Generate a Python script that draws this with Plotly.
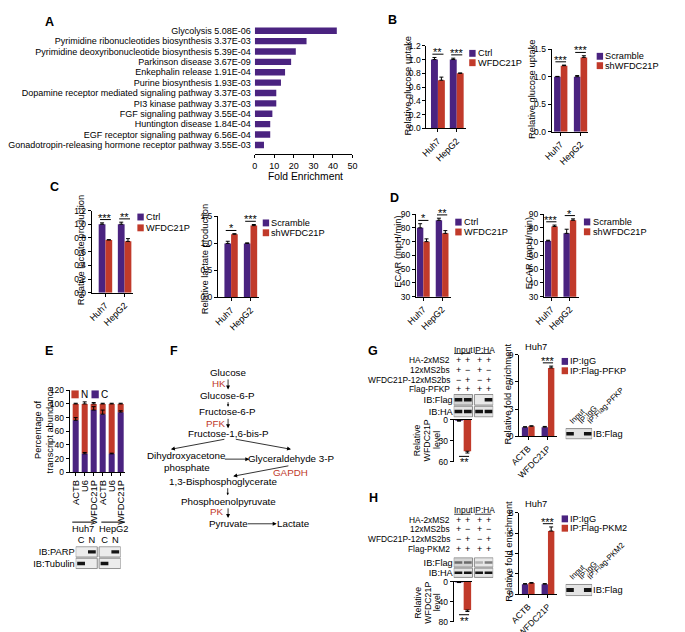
import plotly.graph_objects as go

# ---------------- data ----------------
A_terms = ["Glycolysis", "Pyrimidine ribonucleotides biosynthesis",
           "Pyrimidine deoxyribonucleotide biosynthesis", "Parkinson disease",
           "Enkephalin release", "Purine biosynthesis",
           "Dopamine receptor mediated signaling pathway", "PI3 kinase pathway",
           "FGF signaling pathway", "Huntington disease",
           "EGF receptor signaling pathway",
           "Gonadotropin-releasing hormone receptor pathway"]
A_pvals = ["5.08E-06", "3.37E-03", "5.39E-04", "3.67E-09", "1.91E-04", "1.93E-03",
           "3.37E-03", "3.37E-03", "3.55E-04", "1.84E-04", "6.56E-04", "3.55E-03"]
A_fold = [42.0, 26.5, 21.0, 18.6, 15.5, 13.4, 11.0, 11.0, 9.0, 7.9, 7.9, 4.7]
A_ticks = [0, 10, 20, 30, 40, 50]

CELLS = ["Huh7", "HepG2"]
OE_LABELS = ["Ctrl", "WFDC21P"]
KD_LABELS = ["Scramble", "shWFDC21P"]

B1_ctrl = [1.0, 1.0]; B1_ctrl_err = [0.03, 0.02]
B1_wf = [0.70, 0.80]; B1_wf_err = [0.045, 0.005]
B1_sig = ["**", "***"]
B2_scr = [1.0, 1.0]; B2_scr_err = [0.005, 0.02]
B2_sh = [1.20, 1.35]; B2_sh_err = [0.01, 0.03]
B2_sig = ["***", "***"]

C1_ctrl = [1.0, 1.0]; C1_ctrl_err = [0.02, 0.03]
C1_wf = [0.77, 0.75]; C1_wf_err = [0.005, 0.04]
C1_sig = ["***", "**"]
C2_scr = [1.0, 1.0]; C2_scr_err = [0.04, 0.01]
C2_sh = [1.17, 1.33]; C2_sh_err = [0.01, 0.02]
C2_sig = ["*", "***"]

D1_ctrl = [80.0, 85.5]; D1_ctrl_err = [3.0, 1.5]
D1_wf = [70.0, 76.0]; D1_wf_err = [2.0, 2.0]
D1_sig = ["*", "**"]
D2_scr = [70.5, 76.0]; D2_scr_err = [0.5, 3.0]
D2_sh = [81.0, 85.5]; D2_sh_err = [1.0, 1.0]
D2_sig = ["***", "*"]

E_genes = ["ACTB", "U6", "WFDC21P", "ACTB", "U6", "WFDC21P"]
E_C = [76, 27, 91, 85, 27, 88]
E_C_err = [4, 2, 5, 6, 1, 2]
E_N_err = [1, 3, 2, 1, 1, 1]
E_lanes = ["C", "N", "C", "N"]
E_rows = ["IB:PARP", "IB:Tubulin"]
E_bands = [[0, 1, 0, 1], [1, 0, 1, 0]]

GH_rows = ["HA-2xMS2", "12xMS2bs", "WFDC21P-12xMS2bs"]
GH_signs = [["+", "+", "+", "+"], ["+", "−", "+", "−"], ["−", "+", "−", "+"], ["+", "+", "+", "+"]]
G_flag = "Flag-PFKP"; H_flag = "Flag-PKM2"
GH_blot_rows = ["IB:Flag", "IB:HA"]
G_bands = [[1, 1, 0, 1], [1, 1, 1, 1]]
H_bands = [[0.55, 0.55, 0.25, 0.5], [1, 1, 1, 1]]
G_rel = [1, 45]; G_rel_err = [1, 2.5]
H_rel = [1, 57]; H_rel_err = [1, 3]
REL_sig = "**"
REL_title = ["Relative", "WFDC21P", "level"]
FOLD_genes = ["ACTB", "WFDC21P"]
G_igg = [1.0, 1.0]; G_igg_err = [0.05, 0.08]
G_flagp = [1.1, 7.55]; G_flagp_err = [0.05, 0.2]
H_igg = [1.0, 1.0]; H_igg_err = [0.05, 0.05]
H_flagp = [1.1, 6.2]; H_flagp_err = [0.05, 0.4]
FOLD_sig = ["", "***"]
G_small_lanes = ["Input", "IP:IgG", "IP:Flag-PFKP"]
H_small_lanes = ["Input", "IP:IgG", "IP:Flag-PKM2"]
SMALL_bands = [[1, 0, 1]]

# ---------------- styling helpers ----------------
W, H = 685, 632
FONT = "Liberation Sans, Arial, sans-serif"
PURPLE = "#4a2380"
RED = "#c13a2a"
ENZ = "#c0392b"


def X(p):
    return p / W


def Y(p):
    return 1 - p / H


AX = dict(showline=True, linecolor="black", linewidth=1, ticks="outside", ticklen=3,
          tickwidth=1, tickcolor="black", showgrid=False, zeroline=False,
          fixedrange=True, tickfont=dict(size=8.5, family=FONT, color="black"))
HID = dict(showline=False, showgrid=False, zeroline=False, ticks="",
           showticklabels=False, fixedrange=True)

fig = go.Figure()
layout = dict(width=W, height=H, margin=dict(l=0, r=0, t=0, b=0),
              paper_bgcolor="white", plot_bgcolor="rgba(0,0,0,0)",
              barmode="overlay", showlegend=False,
              font=dict(family=FONT, size=9, color="black"))
shapes, annots = [], []
n_ax = [0]


def new_axes(x0, x1, y0, y1, xa, ya):
    n_ax[0] += 1
    s = "" if n_ax[0] == 1 else str(n_ax[0])
    layout["xaxis" + s] = dict(xa, domain=[X(x0), X(x1)], anchor="y" + s)
    layout["yaxis" + s] = dict(ya, domain=[Y(y1), Y(y0)], anchor="x" + s)
    return "x" + s, "y" + s


def text(x, y, s, size=9.5, anchor="center", color="black", angle=0, bold=False,
         xref="paper", yref="paper", yanchor="middle"):
    annots.append(dict(x=X(x) if xref == "paper" else x, y=Y(y) if yref == "paper" else y,
                       xref=xref, yref=yref, text=("<b>%s</b>" % s) if bold else s,
                       showarrow=False, xanchor=anchor, yanchor=yanchor, textangle=angle,
                       borderpad=0, font=dict(size=size, color=color, family=FONT)))


def legend(x, ys, labels, colors, sq=7, size=9.2):
    for y, lab, c in zip(ys, labels, colors):
        shapes.append(dict(type="rect", xref="paper", yref="paper", x0=X(x), x1=X(x + sq),
                           y0=Y(y + sq / 2), y1=Y(y - sq / 2), fillcolor=c, line=dict(width=0)))
        text(x + sq + 1.5, y, lab, size=size, anchor="left")


def err(a):
    return dict(type="data", array=a, arrayminus=[0] * len(a), symmetric=False,
                color="black", thickness=1, width=2)


def bar_panel(g, cats, s1, e1, s2, e2, sig, labels, yrange, dtick, fmt=None, csize=9):
    unit = g["c1"] - g["c0"]
    w = g["bw"] / unit
    xr = [(g["left"] - g["c0"]) / unit, 1 + (g["right"] - g["c1"]) / unit]
    ya_d = dict(AX, range=yrange, dtick=dtick)
    if fmt:
        ya_d["tickformat"] = fmt
    xa, ya = new_axes(g["left"], g["right"], g["top"], g["bot"],
                      dict(AX, range=xr, tickvals=[0, 1], ticktext=cats, tickangle=-45,
                           tickfont=dict(size=csize, family=FONT, color="black")), ya_d)
    xs = list(range(len(cats)))
    fig.add_trace(go.Bar(x=xs, y=s1, width=w, offset=-w, marker=dict(color=PURPLE, line=dict(width=0)),
                         error_y=err(e1), xaxis=xa, yaxis=ya))
    fig.add_trace(go.Bar(x=xs, y=s2, width=w, offset=0, marker=dict(color=RED, line=dict(width=0)),
                         error_y=err(e2), xaxis=xa, yaxis=ya))
    span = yrange[1] - yrange[0]
    for i in xs:
        if not sig[i]:
            continue
        top = max(s1[i] + e1[i], s2[i] + e2[i]) + 0.04 * span
        shapes.append(dict(type="line", xref=xa, yref=ya, x0=i - 0.8 * w, x1=i + 0.8 * w,
                           y0=top, y1=top, line=dict(color="black", width=1)))
        annots.append(dict(xref=xa, yref=ya, x=i, y=top, text=sig[i], showarrow=False,
                           yanchor="bottom", yshift=-5, borderpad=0,
                           font=dict(size=11, family=FONT, color="black")))
    legend(g["lx"], g["ly"], labels, [PURPLE, RED])
    text(g["tx"], g["ty"], g["title"], size=9.4, angle=-90)
    return xa, ya


def blot(x0, x1, y0, y1, lanes, rows, bands, groups, xr, yr, bw=0.75, bh=0.28,
         fill="#e2e2e2", row_side="left", lane_labels=None, lane_angle=0, fills=None,
         lane_size=9.3, row_size=9.3):
    xa_d = dict(HID, range=xr)
    if lane_labels:
        xa_d.update(side="top", showticklabels=True, tickvals=lanes, ticktext=lane_labels,
                    tickangle=lane_angle, tickfont=dict(size=lane_size, family=FONT, color="black"))
    ya_d = dict(HID, range=yr, showticklabels=True, tickvals=list(range(len(rows))),
                ticktext=rows, side=row_side, tickfont=dict(size=row_size, family=FONT, color="black"))
    xa, ya = new_axes(x0, x1, y0, y1, xa_d, ya_d)
    for r in range(len(rows)):
        for gi, grp in enumerate(groups):
            fc = fills[r][gi] if fills else fill
            shapes.append(dict(type="rect", xref=xa, yref=ya, x0=lanes[grp[0]] - 0.5,
                               x1=lanes[grp[-1]] + 0.5, y0=r - 0.45, y1=r + 0.45,
                               fillcolor=fc, line=dict(color="#8c8c8c", width=1), layer="below"))
        vals = bands[r]
        cols = ["rgba(20,20,20,%.2f)" % v for v in vals]
        fig.add_trace(go.Bar(x=lanes, y=[bh if v > 0 else 0 for v in vals],
                             base=[r - bh / 2] * len(vals), width=bw,
                             marker=dict(color=cols, line=dict(width=0)), xaxis=xa, yaxis=ya))
    return xa, ya


# ---------------- panel letters ----------------
for lt, (lx, ly) in zip("ABCDEFGH", [(17, 9), (393, 7), (22, 177), (395, 188), (16, 343),
                                     (153, 343), (372, 343), (372, 493)]):
    text(lx, ly, lt, size=12.5, bold=True)

# ---------------- A ----------------
nA = len(A_terms)
A_labels = ["%s %s" % (t, p) for t, p in zip(A_terms, A_pvals)]
xaA, yaA = new_axes(242, 349, 11.7, 143,
                    dict(AX, range=[0, 50], tickvals=A_ticks,
                         tickfont=dict(size=9, family=FONT, color="black")),
                    dict(HID, range=[11.85, -0.6], tickvals=list(range(nA)), ticktext=A_labels,
                         showticklabels=True, ticklabelstandoff=3,
                         tickfont=dict(size=9, family=FONT, color="black")))
fig.add_trace(go.Bar(y=list(range(nA)), x=A_fold, orientation="h", width=0.62,
                     marker=dict(color=PURPLE, line=dict(width=0)), xaxis=xaA, yaxis=yaA))
text(297.5, 166.5, "Fold Enrichment", size=10.3)

# ---------------- B ----------------
bar_panel(dict(left=430, right=473, c0=442.7, c1=463.3, bw=7.6, top=33.3, bot=117.3,
               lx=477, ly=[41, 50.5], tx=409.5, ty=74, title="Relative glucose uptake"),
          CELLS, B1_ctrl, B1_ctrl_err, B1_wf, B1_wf_err, B1_sig, OE_LABELS, [0, 1.2], 0.2, ".1f")
bar_panel(dict(left=567.3, right=607.3, c0=577.3, c1=599, bw=7.3, top=36.7, bot=120.7,
               lx=616.7, ly=[44, 53.5], tx=546, ty=77, title="Relative glucose uptake"),
          CELLS, B2_scr, B2_scr_err, B2_sh, B2_sh_err, B2_sig, KD_LABELS, [0, 1.5], 0.5, ".1f")

# ---------------- C ----------------
bar_panel(dict(left=63.3, right=108, c0=78.3, c1=99.3, bw=7.4, top=200.7, bot=284.3,
               lx=113.3, ly=[207.3, 218.3], tx=50.5, ty=241, title="Relative lactate production"),
          CELLS, C1_ctrl, C1_ctrl_err, C1_wf, C1_wf_err, C1_sig, OE_LABELS, [0, 1.2], 0.2, ".1f")
bar_panel(dict(left=201.7, right=247, c0=216, c1=237.3, bw=7.3, top=206.7, bot=289,
               lx=250.7, ly=[213.3, 223.3], tx=186.5, ty=250, title="Relative lactate production"),
          CELLS, C2_scr, C2_scr_err, C2_sh, C2_sh_err, C2_sig, KD_LABELS, [0, 1.5], 0.5, ".1f")

# ---------------- D ----------------
bar_panel(dict(left=418.7, right=457, c0=426.7, c1=447.3, bw=7.0, top=204.3, bot=288.3,
               lx=461.7, ly=[212.5, 222.5], tx=399, ty=242.5, title="ECAR (mpH/min)"),
          CELLS, D1_ctrl, D1_ctrl_err, D1_wf, D1_wf_err, D1_sig, OE_LABELS, [30, 90], 10)
bar_panel(dict(left=559, right=597, c0=567, c1=587.3, bw=7.0, top=204.3, bot=288.3,
               lx=602.7, ly=[212.3, 222.3], tx=541.5, ty=244, title="ECAR (mpH/min)"),
          CELLS, D2_scr, D2_scr_err, D2_sh, D2_sh_err, D2_sig, KD_LABELS, [30, 90], 10)

# ---------------- E ----------------
uE = (95 - 45.7) / 5
xsE = list(range(len(E_genes)))
wE = 6.6 / uE
xaE, yaE = new_axes(39, 100, 383.3, 466.7,
                    dict(AX, range=[(39 - 45.7) / uE, 5 + (100 - 95) / uE], tickvals=xsE,
                         ticktext=E_genes, tickangle=-90,
                         tickfont=dict(size=9.4, family=FONT, color="black")),
                    dict(AX, range=[0, 120], dtick=20))
fig.add_trace(go.Bar(x=xsE, y=[100 - c for c in E_C], base=E_C, width=wE,
                     marker=dict(color=RED, line=dict(width=0)), error_y=err(E_N_err),
                     xaxis=xaE, yaxis=yaE))
fig.add_trace(go.Bar(x=xsE, y=E_C, width=wE, marker=dict(color=PURPLE, line=dict(width=0)),
                     error_y=err(E_C_err), xaxis=xaE, yaxis=yaE))
legend(41, [387.5], ["N"], [RED], sq=8, size=10)
legend(63, [387.5], ["C"], [PURPLE], sq=8, size=10)
text(10.5, 423.5, "Percentage of<br>transcript abundance", size=9.3, angle=-90)
for lab, lo, hi, cx in [(CELLS[0], -0.38, 2.05, 0.84), (CELLS[1], 2.85, 5.5, 4.2)]:
    shapes.append(dict(type="line", xref=xaE, yref="paper", x0=lo, x1=hi, y0=Y(517.3), y1=Y(517.3),
                       line=dict(color="black", width=1)))
    text(cx, 524.5, lab, size=9.3, xref=xaE)
blot(45.7, 95, 541.7, 565.1, [0, 1, 2.17, 3.17], E_rows, E_bands, [[0, 1], [2, 3]],
     [-0.5, 3.67], [1.5, -0.5], lane_labels=E_lanes, bw=0.72, bh=0.3, fill="#ececec",
     lane_size=9.3, row_size=9.3)

# ---------------- F ----------------
F_nodes = [("Glucose", 212.3, 365, "black"), ("HK", 202.3, 376.7, ENZ),
           ("Glucose-6-P", 212.3, 389, "black"), ("Fructose-6-P", 212.3, 405, "black"),
           ("PFK", 199.3, 417.3, ENZ), ("Fructose-1,6-bis-P", 213, 427.7, "black"),
           ("Dihydroxyacetone", 167, 449.3, "black"), ("phosphate", 167.7, 461.7, "black"),
           ("Glyceraldehyde 3-P", 282.5, 452.7, "black"), ("GAPDH", 281.5, 466.7, ENZ),
           ("1,3-Bisphosphoglycerate", 207.5, 476, "black"),
           ("Phosphoenolpyruvate", 213.3, 496, "black"), ("PK", 200.7, 506.7, ENZ),
           ("Pyruvate", 213.3, 519, "black"), ("Lactate", 284, 519, "black")]
for s, x, y, c in F_nodes:
    text(x, y, s, size=9.8, color=c)
F_arrows = [(212.7, 371, 212.7, 382.5, 1), (212.7, 394, 212.7, 400, 0.6),
            (212.7, 411, 212.7, 422, 1), (205, 433, 150, 443.3, 1),
            (225, 433, 281.7, 443.3, 1), (210, 453.3, 236, 453.3, 1),
            (275, 460, 218.3, 470.7, 1), (212.3, 481.5, 212.3, 490, 0.6),
            (212.7, 502, 212.7, 513, 1), (235.7, 519, 266, 519, 1)]
for x0, y0, x1, y1, sz in F_arrows:
    annots.append(dict(x=X(x1), y=Y(y1), ax=x0 - x1, ay=y0 - y1, axref="pixel", ayref="pixel",
                       xref="paper", yref="paper", text="", showarrow=True, arrowhead=2,
                       arrowsize=sz, arrowwidth=0.8, arrowcolor="black", standoff=0,
                       startstandoff=0))


# ---------------- G / H ----------------
def panel_gh(p):
    lanes = [0, 1, 2.2, 3.2]
    xa, ya = blot(460, 503.3, p["by0"], p["by1"], lanes, GH_blot_rows, p["bands"],
                  [[0, 1], [2, 3]], [-0.5, 3.7], [1.5, -0.5], bw=0.82, bh=p["bh"],
                  fills=[["#d4d4d4", "#e8e8e8"], ["#e4e4e4", "#e4e4e4"]], row_size=9.2)
    # header
    for lab, lo, hi in [("Input", 0, 1), ("IP:HA", 2.2, 3.2)]:
        text((lo + hi) / 2, p["hy"], lab, size=8.4, xref=xa)
        shapes.append(dict(type="line", xref=xa, yref="paper", x0=lo - 0.45, x1=hi + 0.3,
                           y0=Y(p["uy"]), y1=Y(p["uy"]), line=dict(color="black", width=0.8)))
    row_names = GH_rows + [p["flag"]]
    for r, (name, yy) in enumerate(zip(row_names, p["rows"])):
        text(457, yy, name, size=8.4, anchor="right")
        for li, sgn in enumerate(GH_signs[r]):
            text(lanes[li], yy, sgn, size=9, xref=xa)
    # relative level (inverted)
    ur = 475 - 465.8
    wr = 8.2 / ur
    xr_, yr_ = new_axes(460, 480, p["ry0"], p["ry1"],
                        dict(HID, range=[(460 - 465.8) / ur, 1 + (480 - 475) / ur], side="top",
                             showline=True, linecolor="black", linewidth=1),
                        dict(AX, range=[p["rmax"], 0], dtick=p["rdtick"]))
    fig.add_trace(go.Bar(x=[0, 1], y=p["rel"], width=wr, marker=dict(color=[PURPLE, RED], line=dict(width=0)),
                         error_y=err(p["rel_err"]), xaxis=xr_, yaxis=yr_))
    ln = max(v + e for v, e in zip(p["rel"], p["rel_err"])) + 0.08 * p["rmax"]
    shapes.append(dict(type="line", xref=xr_, yref=yr_, x0=0.0, x1=1.2, y0=ln, y1=ln,
                       line=dict(color="black", width=1)))
    annots.append(dict(xref=xr_, yref=yr_, x=0.6, y=ln, text=REL_sig, showarrow=False,
                       yanchor="top", yshift=1, borderpad=0,
                       font=dict(size=11, family=FONT, color="black")))
    for tl, tx in zip(REL_title, [420, 431, 441.5]):
        text(tx, p["rty"], tl, size=8.8, angle=-90)
    # fold enrichment
    bar_panel(dict(left=531.7, right=573.3, c0=541.7, c1=563.3, bw=7.0, top=p["ft"], bot=p["fb"],
                   lx=578.3, ly=p["ly"], tx=519.3, ty=p["fty"], title="Relative fold enrichment"),
              FOLD_genes, p["igg"], p["igg_err"], p["fl"], p["fl_err"], FOLD_sig,
              ["IP:IgG", "IP:" + p["flag"]], [0, p["fmax"]], p["fdtick"], csize=8.7)
    text(550, p["hty"], "Huh7", size=9.3)
    # small blot
    blot(582.7, 611.7, p["sy0"], p["sy1"], [0, 1, 2], ["IB:Flag"], SMALL_bands, [[0, 1, 2]],
         [-0.5, 2.5], [0.5, -0.5], bw=0.85, bh=0.32, row_side="right",
         lane_labels=p["small"], lane_angle=-45, fill="#e4e4e4", lane_size=7.8, row_size=9.3)


panel_gh(dict(by0=387, by1=411, bands=G_bands, bh=0.3, hy=342.3, uy=346,
              rows=[352.7, 362.7, 372.7, 382], flag=G_flag, ry0=413.3, ry1=456,
              rmax=60, rdtick=30, rel=G_rel, rel_err=G_rel_err, rty=434,
              ft=347.3, fb=430, ly=[354, 363.5], fty=386.7, igg=G_igg, igg_err=G_igg_err,
              fl=G_flagp, fl_err=G_flagp_err, fmax=9, fdtick=3, hty=339,
              sy0=421.7, sy1=433.3, small=G_small_lanes))
panel_gh(dict(by0=553, by1=574, bands=H_bands, bh=0.25, hy=505, uy=509.3,
              rows=[515, 524.5, 534.5, 545], flag=H_flag, ry0=577.7, ry1=618.3,
              rmax=80, rdtick=40, rel=H_rel, rel_err=H_rel_err, rty=599,
              ft=507.7, fb=590.7, ly=[514, 523.5], fty=546.7, igg=H_igg, igg_err=H_igg_err,
              fl=H_flagp, fl_err=H_flagp_err, fmax=8, fdtick=2, hty=499.3,
              sy0=580, sy1=592.7, small=H_small_lanes))

layout["shapes"] = shapes
layout["annotations"] = annots
fig.update_layout(**layout)
fig.write_html("out.html")
